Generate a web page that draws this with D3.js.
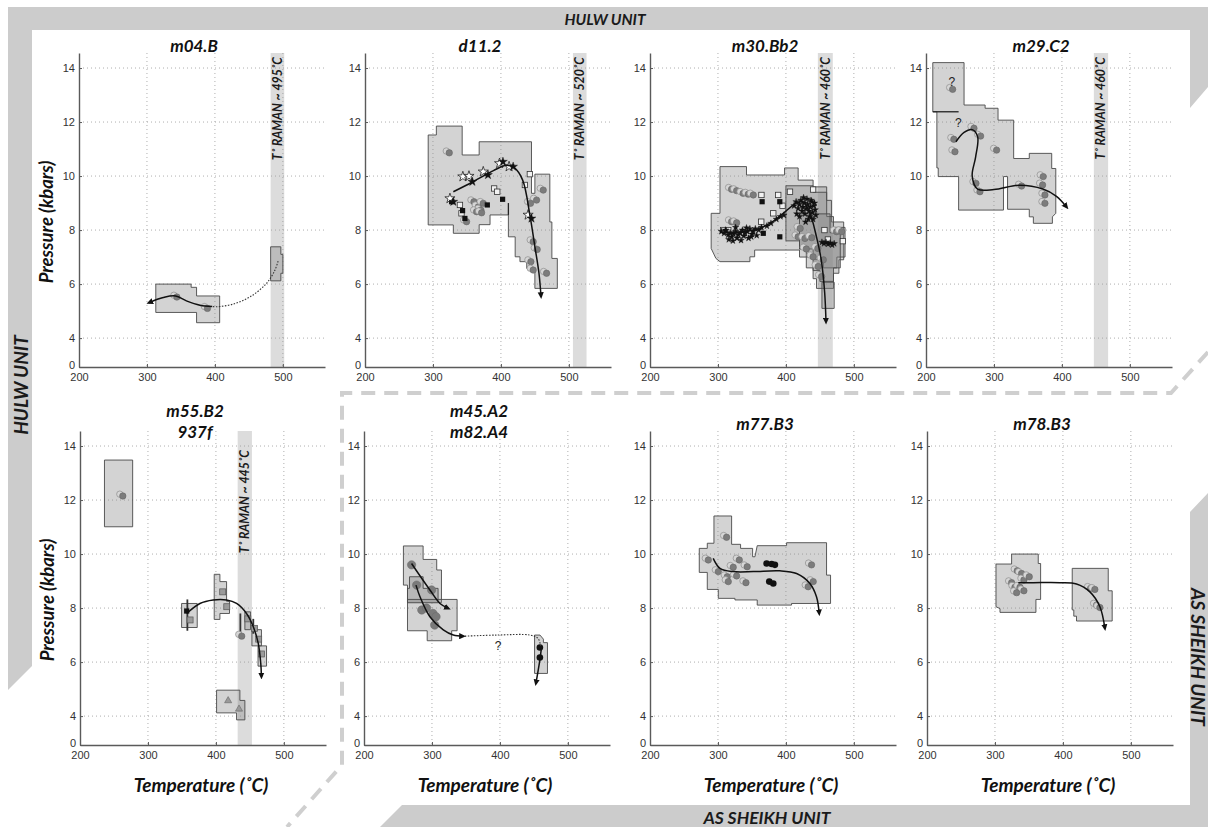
<!DOCTYPE html>
<html><head><meta charset="utf-8">
<script src="https://cdn.jsdelivr.net/npm/d3@7"></script>
<style>body{margin:0;background:#fff}svg{display:block}</style>
</head><body><svg id="c" width="1208" height="827"></svg>
<script>
// ---------- axis data ----------
const xTickValues = [200, 300, 400, 500];
const yTickValues = [2.93, 4, 6, 8, 10, 12, 14];
const yTickLabels = ["0", "4", "6", "8", "10", "12", "14"];
const xDomain = [200, 562];
const yDomain = [2.93, 14.556];

const panelTitles = [["m04.B"], ["d11.2"], ["m30.Bb2"], ["m29.C2"], ["m55.B2", "937f"], ["m45.A2", "m82.A4"], ["m77.B3"], ["m78.B3"]];
const ramanBands = [[482, 502], [506, 526], [447, 469], [447, 468], [432, 453], null, null, null];
const ramanLabels = ["T˚ RAMAN ~ 495˚C", "T˚ RAMAN ~ 520˚C", "T˚ RAMAN ~ 460˚C", "T˚ RAMAN ~ 460˚C", "T˚ RAMAN ~ 445˚C", null, null, null];

// ---------- m04.B ----------
const m04Polys = [
  [[313,6.0],[365,6.0],[365,5.88],[373,5.88],[373,5.56],[407,5.56],[407,4.57],[373,4.57],[373,4.95],[313,4.95]],
  [[482,7.38],[497,7.38],[497,7.1],[500,7.1],[500,6.4],[497,6.4],[497,6.12],[482,6.12]]
];
const m04Gray = [[344,5.52],[389,5.1]];
const m04Path = [[396,5.17],[378,5.22],[358,5.38],[342,5.56],[324,5.5],[303,5.31]];
const m04Dotted = [[493,6.85],[488,6.5],[476,6.03],[452,5.53],[427,5.26],[403,5.16],[396,5.17]];

// ---------- d11.2 ----------
const d11Polys = [
  [[293,11.52],[305,11.52],[305,11.85],[343,11.85],[343,10.78],[368,10.78],[368,11.27],[445,11.27],[445,9.36],[450,9.36],[450,10.07],[472,10.07],[472,8.3],[475,8.3],[475,6.95],[483,6.95],[483,5.84],[450,5.84],[450,6.46],[445,6.46],[445,6.58],[438,6.58],[438,6.83],[428,6.83],[428,7.01],[421,7.01],[421,7.75],[411,7.75],[411,8.56],[384,8.56],[384,8.2],[368,8.2],[368,7.88],[330,7.88],[330,8.19],[293,8.19]]
];
const d11Lines = [[[411,9.0],[411,8.56]]];
const d11Gray = [[324,10.86],[360.3,9.05],[366.7,8.86],[370.6,8.74],[374,8.99],[364.2,8.68],[371.6,8.64],[349.5,8.31],[462.3,9.48],[452.5,9.11],[443.6,8.99],[447.5,7.57],[453.4,7.28],[444.1,6.83],[447.5,6.52],[467.2,6.4]];
const d11Open = [[339.7,8.93],[342,8.62],[390,9.54],[394.6,9.42],[435.3,9.67],[442.6,10.07]];
const d11Black = [[327.5,9.05],[343.6,8.72],[347,8.43],[380,8.93],[402.5,9.14]];
const d11StarsOpen = [[325,9.17],[344,9.98],[353,10.0],[374,10.16],[398,10.47],[412,10.35],[440,8.56]];
const d11StarsFilled = [[330,9.05],[358,9.79],[381,10.04],[403,10.53],[418,10.35],[445,8.43]];
const d11Path = [[330,9.42],[359,9.79],[389,10.2],[408,10.4],[420,10.3],[432,9.85],[443,8.5],[450,7.38],[456,6.4],[459,5.55]];

// ---------- m30.Bb2 ----------
const m30Polys = [
  [[303,10.35],[342,10.35],[342,10.04],[398,10.04],[398,10.3],[418,10.3],[418,9.85],[440,9.85],[440,9.6],[460,9.6],[460,9.1],[467,9.1],[467,8.3],[485,8.3],[485,6.9],[478,6.9],[478,6.4],[470,6.4],[470,5.84],[445,5.84],[445,6.2],[440,6.2],[440,6.6],[430,6.6],[430,7.0],[420,7.0],[420,7.26],[354,7.26],[354,7.01],[347,7.01],[347,6.83],[303,6.83],[297,6.95],[290,7.32],[290,8.62],[303,8.62]],
  [[400,9.64],[440,9.64],[440,9.4],[460,9.4],[460,8.5],[470,8.5],[470,8.1],[487,8.1],[487,7.0],[475,7.0],[475,6.6],[455,6.6],[455,6.9],[440,6.9],[440,7.3],[420,7.3],[420,7.6],[400,7.6]],
  [[420,8.6],[465,8.6],[465,7.9],[480,7.9],[480,6.6],[470,6.6],[470,6.1],[450,6.1],[450,6.5],[440,6.5],[440,7.0],[430,7.0],[430,7.3],[420,7.3]],
  [[453,6.07],[471,6.07],[471,5.1],[453,5.1]]
];
const m30Gray = [[320,9.51],[327.5,9.46],[337,9.36],[344.6,9.33],[352,9.3],[320,8.31],[327.5,8.27],[418,7.75],[428,7.69],[438,7.72],[421,8.06],[447,7.32],[440,7.01],[447.5,6.65],[452.5,6.28],[474.5,7.94],[482,7.94],[430,7.3],[455,6.9]];
const m30Open = [[364,9.3],[388.7,9.3],[406,9.42],[381.4,8.62],[307.8,8.0],[315.2,8.0],[363.7,8.31],[456.7,8.0],[461.8,7.65],[483.8,7.59],[440,9.5],[395,8.9]];
const m30Black = [[365,9.05],[391,9.05],[391,7.75],[366.7,7.88]];
const m30Stars = [
  [305,7.95],[309,7.88],[312,7.98],[315,7.82],[318,7.9],[320,7.75],[323,7.85],[326,7.95],[328,7.7],[330,7.82],[333,7.9],[336,8.0],[338,7.78],[340,7.88],[343,7.95],[345,7.7],[347,8.05],[350,7.85],[352,7.95],[355,8.05],[357,7.8],[316,7.65],[322,7.6],[334,7.62],[342,8.08],[311,8.0],[349,7.75],[326,8.1],[360,8.0],[364,8.1],
  [372,8.15],[378,8.25],[386,8.4],[392,8.5],[397,8.55],
  [412,8.9],[415,9.05],[418,8.8],[420,8.95],[422,9.1],[424,8.7],[425,8.85],[427,9.0],[428,8.6],[430,8.8],[431,9.15],[432,8.95],[434,8.7],[435,8.5],[436,8.85],[438,9.05],[439,8.65],[440,8.4],[441,8.9],[443,8.75],[444,8.55],[416,8.6],[426,9.2],[433,8.4],[437,9.1],[420,8.5],[429,8.3],[442,9.0],
  [453,7.55],[456,7.5],[459,7.55],[462,7.48],[465,7.52],[468,7.45],[471,7.5]
];
const m30Path = [[312,7.9],[340,7.95],[360,8.05],[380,8.3],[400,8.7],[415,9.0],[425,9.05],[435,8.65],[445,7.75],[452,6.9],[457,5.7],[459,4.6]];

// ---------- m29.C2 ----------
const m29Polys = [
  [[210,14.2],[256,14.2],[256,12.63],[287,12.63],[287,12.51],[306,12.51],[306,12.07],[329,12.07],[329,10.65],[352,10.65],[352,10.84],[385,10.84],[385,10.28],[391,10.28],[391,8.62],[386,8.49],[386,8.25],[358,8.25],[358,8.49],[352,8.49],[352,8.77],[320,8.77],[320,9.98],[314,9.98],[314,8.74],[248,8.74],[248,9.98],[218,9.98],[218,10.3],[216,10.3],[216,12.38],[210,12.38]]
];
const m29Lines = [[[210,12.38],[248,12.38]]];
const m29Gray = [[239.2,13.21],[241,11.36],[242.6,10.9],[270.6,11.77],[280.4,11.48],[303.9,10.96],[273.5,9.73],[279.4,9.42],[340.7,9.63],[372.5,9.98],[371.6,9.67],[375,9.3],[375,8.99]];
const m29Query = [[238,13.5],[247.5,11.95]];
const m29Path = [[244,11.27],[256,11.62],[268,11.72],[276,11.45],[273,10.7],[268,10.0],[276,9.52],[300,9.5],[338,9.66],[372,9.52],[392,9.25],[407,8.85]];

// ---------- m55.B2 / 937f ----------
const m55Polys = [
  [[236,13.48],[277.5,13.48],[277.5,11.01],[236,11.01]],
  [[349.5,8.17],[372.5,8.17],[372.5,7.28],[349.5,7.28]],
  [[397.5,9.25],[405.9,9.25],[405.9,8.98],[415.7,8.98],[415.7,8.25],[420,8.25],[420,7.8],[405.9,7.8],[405.9,7.58],[397.5,7.58]],
  [[442.6,7.86],[451,7.86],[451,7.2],[442.6,7.2]],
  [[453,7.2],[467,7.2],[467,6.6],[453,6.6]],
  [[462,6.6],[474.5,6.6],[474.5,5.85],[462,5.85]],
  [[401,4.96],[435.3,4.96],[435.3,4.58],[442.6,4.58],[442.6,3.86],[430.4,3.86],[430.4,4.12],[401,4.12]]
];
const m55Bars = [[358,8.32,7.16],[436,7.8,6.88],[455,7.6,7.05]];
const m55Gray = [[263,12.15],[438,6.96]];
const m55Squares = [[362,7.56],[410,8.6],[416,8.05],[447,7.6],[457,7.25],[463,6.85],[467,6.3]];
const m55Black = [[357,7.89]];
const m55Tri = [[418,4.57],[434,4.26]];
const m55Path = [[357,7.8],[376.5,8.17],[396,8.3],[415.7,8.3],[430.4,8.17],[445,7.8],[455,7.31],[462.3,6.69],[466,5.95],[467,5.46]];

// ---------- m45.A2 / m82.A4 ----------
const m45Polys = [
  [[258,10.3],[287,10.3],[287,9.8],[307,9.8],[307,9.41],[314,9.41],[314,8.2],[264,8.2],[264,8.85],[258,8.85]],
  [[267,9.16],[287,9.16],[287,8.73],[309,8.73],[309,8.2],[264,8.2],[264,8.73],[267,8.73]],
  [[264,8.32],[337,8.32],[337,7.16],[329,7.16],[329,6.79],[293,6.79],[293,7.16],[264,7.16]],
  [[451,7.0],[459,7.0],[464,6.85],[464,6.72],[470,6.72],[470,5.58],[451,5.58]]
];
const m45Blobs = [[285,7.93],[292,8.0],[301.5,7.8],[306,7.68],[304,7.37],[270,9.6],[277.5,8.85],[299.5,8.67]];
const m45Black = [[458.8,6.54],[458.8,6.17]];
const m45Query = [[397.5,6.59]];
const m45PathA = [[270,9.65],[280,9.28],[297,8.67],[311.8,8.17],[324,7.99]];
const m45PathB = [[276.5,8.85],[282.4,8.42],[297,7.68],[316.7,7.19],[331.4,7.0],[346,6.96]];
const m45PathC = [[461,6.5],[458,5.95],[453,5.21]];
const m45Dotted = [[348.5,6.96],[395,7.0],[444,7.0],[456,6.88],[460,6.6]];

// ---------- m77.B3 ----------
const m77Polys = [
  [[272.5,10.21],[272.5,9.32],[284.3,9.32],[284.3,8.69],[300.5,8.69],[300.5,8.36],[325,8.36],[325,8.3],[357.8,8.3],[357.8,8.11],[408.3,8.11],[408.3,8.17],[465.7,8.17],[465.7,9.22],[459.8,9.22],[459.8,10.42],[401,10.42],[401,10.31],[357.8,10.31],[354.4,9.9],[351,9.9],[351,10.21],[333.3,10.21],[333.3,10.36],[320.1,10.36],[320.1,11.41],[294.1,11.41],[294.1,10.4],[284.3,10.4],[284.3,10.21]]
];
const m77Gray = [[312.7,10.62],[285.8,9.78],[331.4,9.78],[322.5,9.51],[343,9.53],[300.5,9.35],[313.7,9.16],[315.2,8.98],[327.5,9.19],[341.2,8.94],[437.7,9.6],[432.8,8.79],[440.2,8.98]];
const m77Black = [[371.6,9.65],[379,9.63],[383.8,9.6],[375.5,8.98],[381.4,8.91]];
const m77Path = [[293,9.84],[303,9.47],[322.5,9.35],[352,9.35],[391,9.38],[415.7,9.28],[435.3,8.91],[445,8.42],[449,7.8]];

// ---------- m78.B3 ----------
const m78Polys = [
  [[301.5,9.63],[324.5,9.63],[324.5,10.0],[363.7,10.0],[363.7,9.65],[367.2,9.65],[367.2,8.32],[360.3,8.32],[360.3,7.84],[307.4,7.84],[307.4,7.98],[301.5,8.05]],
  [[413.7,9.47],[466.7,9.47],[466.7,8.64],[472.5,8.64],[472.5,7.52],[420,7.52],[420,7.7],[416,7.7],[416,7.93],[413.7,7.93]]
];
const m78Gray = [[324.5,8.94],[329.4,8.77],[332.8,9.38],[339.2,9.28],[342.6,9.04],[336.8,8.77],[342.6,8.64],[350.5,9.16],[331.9,8.57],[440.7,8.73],[447,8.69],[449.5,8.11],[454.4,8.02]];
const m78Path = [[334.3,8.94],[356.4,8.94],[395.6,8.94],[420,8.89],[439.7,8.6],[454.4,8.05],[461.8,7.25]];

// ---------- panel table built from the arrays ----------
const panels = [
  {polys: m04Polys, gray: m04Gray, paths: [m04Path], dotted: [m04Dotted]},
  {polys: d11Polys, lines: d11Lines, gray: d11Gray, open: d11Open, black: d11Black, starsOpen: d11StarsOpen, stars: d11StarsFilled, paths: [d11Path]},
  {polys: m30Polys, gray: m30Gray, open: m30Open, black: m30Black, stars: m30Stars, starSize: 13, paths: [m30Path]},
  {polys: m29Polys, lines: m29Lines, gray: m29Gray, query: m29Query, paths: [m29Path]},
  {polys: m55Polys, bars: m55Bars, gray: m55Gray, squares: m55Squares, black: m55Black, tri: m55Tri, paths: [m55Path]},
  {polys: m45Polys, blobs: m45Blobs, dots: m45Black, query: m45Query, paths: [m45PathA, m45PathB, m45PathC], dotted: [m45Dotted]},
  {polys: m77Polys, gray: m77Gray, dots: m77Black, paths: [m77Path]},
  {polys: m78Polys, gray: m78Gray, paths: [m78Path]}
];
panels.forEach((p, i) => { p.title = panelTitles[i]; p.band = ramanBands[i]; p.bandLabel = ramanLabels[i]; });

// ---------- drawing ----------
const svg = d3.select("#c");
const FONT = "Lato, 'Open Sans', sans-serif";
const frameGray = "#cccccc";

const defs = svg.append("defs");
defs.append("marker").attr("id", "arr").attr("viewBox", "0 0 10 10")
  .attr("refX", 6).attr("refY", 5).attr("markerWidth", 4.5).attr("markerHeight", 4.5)
  .attr("orient", "auto")
  .append("path").attr("d", "M0,0.5 L10,5 L0,9.5 z").attr("fill", "#111");

// frame
svg.append("path").attr("fill", frameGray)
  .attr("d", d3.line()([[8,7],[1208,7],[1208,87],[1190,108],[1190,30],[32,30],[32,666],[8,690]]) + "Z");
svg.append("path").attr("fill", frameGray)
  .attr("d", d3.line()([[1190,512],[1208,493],[1208,827],[380,827],[402,805],[1190,805]]) + "Z");
svg.append("path").attr("fill", "none").attr("stroke", "#cfcfcf").attr("stroke-width", 4)
  .attr("stroke-dasharray", "14,9")
  .attr("d", d3.line()([[1208,352],[1171,393],[342,393],[342,765],[287,827]]));

const unitText = (x, y, rot, size, txt) => svg.append("text")
  .attr("transform", `translate(${x},${y}) rotate(${rot})`)
  .attr("text-anchor", "middle").attr("dominant-baseline", "central")
  .attr("font-family", FONT).attr("font-weight", 700).attr("font-style", "italic")
  .attr("font-size", size).attr("fill", "#1a1a1a").text(txt);
unitText(605, 18.5, 0, 15.5, "HULW UNIT");
unitText(20, 385, -90, 19, "HULW UNIT");
unitText(767, 817, 0, 17.5, "AS SHEIKH  UNIT");
unitText(1198, 657, 90, 19, "AS SHEIKH UNIT");

const colX = [[79, 365, 650, 926], [80, 364, 650, 927]];
const rowY = [53, 431];
const W = 246, H = 314;

panels.forEach((p, i) => {
  const row = i < 4 ? 0 : 1, col = i % 4;
  const g = svg.append("g").attr("transform", `translate(${colX[row][col]},${rowY[row]})`);
  const x = d3.scaleLinear().domain(xDomain).range([0, W]);
  const y = d3.scaleLinear().domain(yDomain).range([H, 0]);
  const line = d3.line().x(d => x(d[0])).y(d => y(d[1]));
  const curve = d3.line().x(d => x(d[0])).y(d => y(d[1])).curve(d3.curveCatmullRom.alpha(0.5));

  // raman band
  if (p.band) {
    g.append("rect").attr("x", x(p.band[0])).attr("y", 0)
      .attr("width", x(p.band[1]) - x(p.band[0])).attr("height", H).attr("fill", "#dcdcdc");
  }
  // grid
  g.selectAll(".vg").data(xTickValues.slice(1)).join("line")
    .attr("x1", d => x(d)).attr("x2", d => x(d)).attr("y1", 0).attr("y2", H)
    .attr("stroke", "#9a9a9a").attr("stroke-width", 0.8).attr("stroke-dasharray", "1,3");
  g.selectAll(".hg").data(yTickValues.slice(1)).join("line")
    .attr("x1", 0).attr("x2", W).attr("y1", d => y(d)).attr("y2", d => y(d))
    .attr("stroke", "#9a9a9a").attr("stroke-width", 0.8).attr("stroke-dasharray", "1,3");

  // polygons
  g.selectAll(".poly").data(p.polys).join("path")
    .attr("d", d => line(d) + "Z")
    .attr("fill", "#848484").attr("fill-opacity", 0.36)
    .attr("stroke", "#4a4a4a").attr("stroke-width", 0.9);
  (p.lines || []).forEach(l => g.append("path").attr("d", line(l)).attr("stroke", "#222").attr("stroke-width", 1.3).attr("fill", "none"));
  (p.bars || []).forEach(b => g.append("line").attr("x1", x(b[0])).attr("x2", x(b[0]))
    .attr("y1", y(b[1])).attr("y2", y(b[2])).attr("stroke", "#333").attr("stroke-width", 1.8));

  // markers
  (p.gray || []).forEach(d => {
    g.append("circle").attr("cx", x(d[0]) - 3).attr("cy", y(d[1]) - 1.8).attr("r", 3.2)
      .attr("fill", "#d6d6d6").attr("stroke", "#8c8c8c").attr("stroke-width", 0.7);
    g.append("circle").attr("cx", x(d[0])).attr("cy", y(d[1])).attr("r", 3.2)
      .attr("fill", "#7c7c7c").attr("stroke", "#666").attr("stroke-width", 0.6);
  });
  (p.blobs || []).forEach(d => g.append("circle").attr("cx", x(d[0])).attr("cy", y(d[1])).attr("r", 4.2)
    .attr("fill", "#7a7a7a").attr("stroke", "#6a6a6a").attr("stroke-width", 0.5));
  (p.open || []).forEach(d => g.append("rect").attr("x", x(d[0]) - 2.7).attr("y", y(d[1]) - 2.7)
    .attr("width", 5.4).attr("height", 5.4).attr("fill", "#f2f2f2").attr("stroke", "#333").attr("stroke-width", 0.8));
  (p.squares || []).forEach(d => g.append("rect").attr("x", x(d[0]) - 3).attr("y", y(d[1]) - 3)
    .attr("width", 6).attr("height", 6).attr("fill", "#9a9a9a").attr("stroke", "#555").attr("stroke-width", 0.7));
  (p.black || []).forEach(d => g.append("rect").attr("x", x(d[0]) - 2.6).attr("y", y(d[1]) - 2.6)
    .attr("width", 5.2).attr("height", 5.2).attr("fill", "#111"));
  (p.dots || []).forEach(d => g.append("circle").attr("cx", x(d[0])).attr("cy", y(d[1])).attr("r", 3.3).attr("fill", "#111"));
  (p.tri || []).forEach(d => g.append("path").attr("transform", `translate(${x(d[0])},${y(d[1])})`)
    .attr("d", d3.symbol().type(d3.symbolTriangle).size(22)()).attr("fill", "#999").attr("stroke", "#666").attr("stroke-width", 0.6));
  (p.starsOpen || []).forEach(d => g.append("path").attr("transform", `translate(${x(d[0])},${y(d[1])})`)
    .attr("d", d3.symbol().type(d3.symbolStar).size(32)()).attr("fill", "#fff").attr("stroke", "#222").attr("stroke-width", 0.8));
  (p.stars || []).forEach(d => g.append("path").attr("transform", `translate(${x(d[0])},${y(d[1])})`)
    .attr("d", d3.symbol().type(d3.symbolStar).size(p.starSize || 24)()).attr("fill", "#111").attr("stroke", "#111").attr("stroke-width", 0.4));

  // paths
  (p.dotted || []).forEach(d => g.append("path").attr("d", curve(d)).attr("fill", "none")
    .attr("stroke", "#333").attr("stroke-width", 1.1).attr("stroke-dasharray", "1.5,1.5"));
  (p.paths || []).forEach(d => g.append("path").attr("d", curve(d)).attr("fill", "none")
    .attr("stroke", "#111").attr("stroke-width", 1.5).attr("marker-end", "url(#arr)"));
  (p.query || []).forEach(d => g.append("text").attr("x", x(d[0])).attr("y", y(d[1]))
    .attr("text-anchor", "middle").attr("dominant-baseline", "central")
    .attr("font-family", "'Liberation Sans', Arial, sans-serif").attr("font-size", 12).attr("fill", "#222").text("?"));

  // axes
  const ax = g.append("g").call(d3.axisLeft(y).tickValues(yTickValues).tickFormat((d, k) => yTickLabels[k])
    .tickSizeInner(-3).tickSizeOuter(0).tickPadding(4));
  const bx = g.append("g").attr("transform", `translate(0,${H})`)
    .call(d3.axisBottom(x).tickValues(xTickValues).tickFormat(d3.format("d"))
    .tickSizeInner(-3).tickSizeOuter(0).tickPadding(6));
  [ax, bx].forEach(a => {
    a.select(".domain").attr("stroke", "#5a5a5a").attr("stroke-width", 1.4);
    a.selectAll(".tick line").attr("stroke", "#5a5a5a");
    a.selectAll("text").attr("font-family", "'Liberation Sans', Arial, sans-serif").attr("font-size", 11).attr("fill", "#333");
  });
  ax.selectAll(".tick").filter(d => d === yTickValues[0]).select("text").attr("dy", "0.1em");

  // band label
  if (p.bandLabel) {
    const cx = x((p.band[0] + p.band[1]) / 2);
    g.append("text").attr("transform", `translate(${cx + 4.3},${row === 0 ? 4 : 19}) rotate(-90)`)
      .attr("text-anchor", "end").attr("font-family", FONT).attr("font-weight", 700).attr("font-style", "italic")
      .attr("font-size", 12.3).attr("fill", "#1a1a1a").text(p.bandLabel);
  }

  // title
  const tx = 115;
  if (p.title.length === 1) {
    g.append("text").attr("x", tx).attr("y", -1.5).attr("text-anchor", "middle")
      .attr("font-family", FONT).attr("font-weight", 700).attr("font-style", "italic").attr("font-size", 17)
      .attr("fill", "#111").text(p.title[0]);
  } else {
    p.title.forEach((t, k) => g.append("text").attr("x", tx).attr("y", k === 0 ? -14 : 7).attr("text-anchor", "middle")
      .attr("font-family", FONT).attr("font-weight", 700).attr("font-style", "italic").attr("font-size", 17)
      .attr("fill", "#111").text(t));
  }
  // axis titles
  if (col === 0) {
    g.append("text").attr("transform", `translate(-26,${H / 2 + 12}) rotate(-90)`).attr("text-anchor", "middle")
      .attr("font-family", FONT).attr("font-weight", 700).attr("font-style", "italic").attr("font-size", 18.5)
      .attr("fill", "#111").text("Pressure (kbars)");
  }
  if (row === 1) {
    g.append("text").attr("x", 121).attr("y", H + 47).attr("text-anchor", "middle")
      .attr("font-family", FONT).attr("font-weight", 700).attr("font-style", "italic").attr("font-size", 19)
      .attr("fill", "#111").text("Temperature (˚C)");
  }
});
</script></body></html>
